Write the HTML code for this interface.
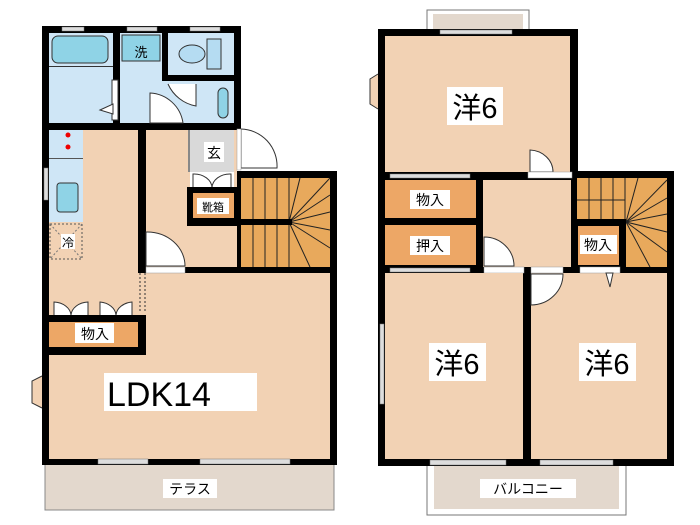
<!DOCTYPE html>
<html><head><meta charset="utf-8"><style>
html,body{margin:0;padding:0;background:#fff;}
svg{display:block}
text{font-family:"Liberation Sans","Noto Sans CJK JP",sans-serif;fill:#000}
</style></head><body>
<svg width="700" height="525" viewBox="0 0 700 525" xmlns="http://www.w3.org/2000/svg">
<rect x="45" y="463" width="289" height="47" fill="#e3d8cd" stroke="#888" stroke-width="1"/>
<rect x="42" y="26" width="199" height="104" fill="#000"/>
<rect x="42" y="125" width="104" height="340" fill="#000"/>
<rect x="138" y="267" width="199" height="198" fill="#000"/>
<rect x="237" y="171" width="100" height="102" fill="#000"/>
<rect x="49" y="33" width="64" height="90" fill="#cfe6f6"/>
<rect x="52" y="36" width="56" height="27" rx="6" fill="#8fd3e6" stroke="#333"/>
<rect x="49" y="66" width="64" height="1" fill="#333"/>
<rect x="120" y="33" width="114" height="90" fill="#cfe6f6"/>
<rect x="122" y="35" width="38" height="26" fill="#8fd3e6" stroke="#333"/>
<text x="141" y="57" font-size="13" text-anchor="middle">洗</text>
<rect x="162" y="33" width="6" height="45" fill="#000"/>
<rect x="168" y="33" width="66" height="45" fill="#cfe6f6"/>
<ellipse cx="192" cy="54" rx="13" ry="9" fill="#b5dcf2" stroke="#333"/>
<rect x="207" y="39" width="14" height="30" fill="#b5dcf2" stroke="#333"/>
<rect x="162" y="75" width="72" height="6" fill="#000"/>
<rect x="214" y="81" width="20" height="42" fill="#cfe6f6"/>
<rect x="218" y="88" width="10" height="30" rx="5" fill="#8fd3e6" stroke="#333"/>
<path d="M168 84 A38 38 0 0 0 196 106 L196 84" fill="#fff" stroke="#333"/>
<path d="M150 123 L150 93 A35 35 0 0 1 183 123 Z" fill="#fff" stroke="#333"/>
<rect x="112" y="80" width="6" height="40" fill="#fff" stroke="#333"/>
<path d="M100 110 L113 104 L113 114 Z" fill="#fff" stroke="#333"/>
<rect x="62" y="27" width="22" height="4" fill="#ddd" stroke="#777" stroke-width=".5"/>
<rect x="127" y="27" width="30" height="4" fill="#ddd" stroke="#777" stroke-width=".5"/>
<rect x="190" y="27" width="30" height="4" fill="#ddd" stroke="#777" stroke-width=".5"/>
<rect x="49" y="130" width="89" height="185" fill="#f2d2b4"/>
<rect x="146" y="130" width="91" height="137" fill="#f2d2b4"/>
<rect x="49" y="273" width="281" height="186" fill="#f2d2b4"/>
<rect x="138" y="273" width="8" height="42" fill="#f2d2b4"/>
<line x1="140" y1="273" x2="140" y2="313" stroke="#333" stroke-dasharray="2 2"/>
<line x1="145" y1="273" x2="145" y2="313" stroke="#333" stroke-dasharray="2 2"/>
<rect x="49" y="130" width="34" height="92" fill="#cfe6f6"/>
<rect x="49" y="158" width="34" height="1" fill="#555"/>
<circle cx="68" cy="135" r="2.5" fill="#e00"/><circle cx="68" cy="147" r="2.5" fill="#e00"/>
<rect x="57" y="183" width="21" height="29" rx="3" fill="#8fd3e6" stroke="#333"/>
<rect x="44" y="168" width="4" height="32" fill="#ddd" stroke="#777" stroke-width=".5"/>
<rect x="50" y="224" width="32" height="35" fill="none" stroke="#555" stroke-dasharray="2 2"/>
<line x1="50" y1="224" x2="82" y2="259" stroke="#777" stroke-dasharray="2 2"/>
<line x1="82" y1="224" x2="50" y2="259" stroke="#777" stroke-dasharray="2 2"/>
<rect x="61" y="234" width="14" height="15" fill="#fff"/>
<text x="68" y="247" font-size="12" text-anchor="middle">冷</text>
<rect x="42" y="315" width="104" height="40" fill="#000"/>
<rect x="49" y="322" width="89" height="25" fill="#eda766"/>
<rect x="75" y="323" width="39" height="20" fill="#fff"/>
<text x="95" y="339" font-size="14" text-anchor="middle">物入</text>
<path d="M54 315 L54 302 A18 14 0 0 1 71 315 M88 315 L88 302 A18 14 0 0 0 71 315" fill="#fff" stroke="#333"/>
<path d="M100 315 L100 302 A18 14 0 0 1 116 315 M132 315 L132 302 A18 14 0 0 0 116 315" fill="#fff" stroke="#333"/>
<rect x="138" y="125" width="8" height="142" fill="#000"/>
<rect x="190" y="130" width="44" height="42" fill="#d9d9d9"/>
<rect x="188" y="130" width="2" height="42" fill="#888"/>
<rect x="204" y="142" width="20" height="20" fill="#fff"/>
<text x="214" y="158" font-size="14" text-anchor="middle">玄</text>
<rect x="190" y="172" width="44" height="16" fill="#fff"/>
<path d="M193 188 L193 174 A18 14 0 0 1 212 188 M231 188 L231 174 A18 14 0 0 0 212 188" fill="none" stroke="#333"/>
<rect x="187" y="187" width="54" height="39" fill="#000"/>
<rect x="193" y="193" width="41" height="25" fill="#eda766"/>
<rect x="197" y="198" width="32" height="16" fill="#fff"/>
<text x="213" y="211" font-size="11" text-anchor="middle">靴箱</text>
<path d="M241 129 L241 168 L277 168 A37 37 0 0 0 241 129 Z" fill="#fff" stroke="#333"/>
<rect x="237" y="129" width="4" height="41" fill="#fff" stroke="#999" stroke-width=".5"/>
<rect x="241" y="178" width="89" height="89" fill="#e8a95c"/>
<g stroke="#222" stroke-width="1">
<line x1="253" y1="178" x2="253" y2="267"/><line x1="265" y1="178" x2="265" y2="267"/>
<line x1="277" y1="178" x2="277" y2="267"/><line x1="289" y1="178" x2="289" y2="267"/>
<line x1="241" y1="222" x2="289" y2="222"/>
<line x1="289" y1="222" x2="330" y2="178"/><line x1="289" y1="222" x2="330" y2="195"/>
<line x1="289" y1="222" x2="330" y2="212"/><line x1="289" y1="222" x2="330" y2="230"/>
<line x1="289" y1="222" x2="330" y2="248"/><line x1="289" y1="222" x2="310" y2="267"/>
<line x1="289" y1="222" x2="300" y2="178"/>
</g>
<rect x="236" y="219" width="56" height="6" fill="#000"/>
<path d="M146 266 L146 232 A38 34 0 0 1 185 266 Z" fill="#fff" stroke="#333"/>
<rect x="146" y="267" width="39" height="6" fill="#fff" stroke="#999" stroke-width=".5"/>
<rect x="104" y="373" width="153" height="38" fill="#fff"/>
<text x="107" y="406" font-size="34">LDK14</text>
<path d="M42 376 L32 381 L32 403 L42 408" fill="#f2d2b4" stroke="#333"/>
<rect x="98" y="459" width="50" height="5" fill="#ddd" stroke="#777" stroke-width=".5"/>
<rect x="200" y="459" width="90" height="5" fill="#ddd" stroke="#777" stroke-width=".5"/>
<rect x="163" y="479" width="54" height="19" fill="#fff"/>
<text x="190" y="494" font-size="14" text-anchor="middle">テラス</text>

<rect x="427" y="10" width="102" height="20" fill="#fff" stroke="#777"/>
<rect x="433" y="14" width="90" height="16" fill="#e3d8cd"/>
<rect x="427" y="463" width="199" height="52" fill="#fff" stroke="#777"/>
<rect x="434" y="466" width="185" height="43" fill="#e3d8cd"/>
<rect x="378" y="29" width="200" height="150" fill="#000"/>
<rect x="378" y="171" width="296" height="295" fill="#000"/>
<rect x="385" y="36" width="185" height="136" fill="#f2d2b4"/>
<rect x="440" y="30" width="72" height="4" fill="#ddd" stroke="#777" stroke-width=".5"/>
<path d="M378 74 L370 79 L370 104 L378 109" fill="#f2d2b4" stroke="#333"/>
<rect x="447" y="87" width="56" height="38" fill="#fff"/>
<text x="475" y="118" font-size="29" text-anchor="middle">洋6</text>
<path d="M530 172 L530 150 A24 22 0 0 1 553 172 Z" fill="#fff" stroke="#333"/>
<rect x="528" y="172" width="44" height="6" fill="#fff" stroke="#999" stroke-width=".5"/>
<rect x="385" y="180" width="91" height="38" fill="#eda766"/>
<rect x="390" y="174" width="80" height="4" fill="#ddd" stroke="#777" stroke-width=".5"/>
<rect x="410" y="190" width="40" height="19" fill="#fff"/>
<text x="430" y="205" font-size="14" text-anchor="middle">物入</text>
<rect x="385" y="225" width="91" height="40" fill="#eda766"/>
<rect x="410" y="236" width="40" height="19" fill="#fff"/>
<text x="430" y="251" font-size="14" text-anchor="middle">押入</text>
<rect x="390" y="268" width="80" height="4" fill="#ddd" stroke="#777" stroke-width=".5"/>
<rect x="483" y="180" width="88" height="87" fill="#f2d2b4"/>
<path d="M484 266 L484 237 A30 29 0 0 1 514 266 Z" fill="#fff" stroke="#333"/>
<rect x="484" y="267" width="40" height="6" fill="#fff" stroke="#999" stroke-width=".5"/>
<rect x="577" y="178" width="90" height="89" fill="#e8a95c"/>
<g stroke="#222" stroke-width="1">
<line x1="589" y1="178" x2="589" y2="220"/><line x1="601" y1="178" x2="601" y2="220"/>
<line x1="613" y1="178" x2="613" y2="220"/><line x1="625" y1="178" x2="625" y2="220"/>
<line x1="577" y1="200" x2="625" y2="200"/>
<line x1="626" y1="222" x2="667" y2="180"/><line x1="626" y1="222" x2="667" y2="198"/>
<line x1="626" y1="222" x2="667" y2="214"/><line x1="626" y1="222" x2="667" y2="232"/>
<line x1="626" y1="222" x2="667" y2="252"/><line x1="626" y1="222" x2="650" y2="267"/>
<line x1="626" y1="222" x2="638" y2="178"/>
</g>
<rect x="571" y="219" width="55" height="54" fill="#000"/>
<rect x="578" y="226" width="41" height="39" fill="#eda766"/>
<rect x="580" y="235" width="37" height="19" fill="#fff"/>
<text x="598" y="250" font-size="14" text-anchor="middle">物入</text>
<rect x="385" y="273" width="138" height="186" fill="#f2d2b4"/>
<rect x="531" y="273" width="136" height="186" fill="#f2d2b4"/>
<path d="M531 274 L531 305 A32 31 0 0 0 563 274 Z" fill="#fff" stroke="#333"/>
<rect x="531" y="267" width="32" height="6" fill="#fff" stroke="#999" stroke-width=".5"/>
<rect x="580" y="267" width="40" height="6" fill="#fff" stroke="#999" stroke-width=".5"/>
<path d="M606 273 L613 273 L610 287 Z" fill="#fff" stroke="#333"/>
<rect x="380" y="324" width="4" height="80" fill="#ddd" stroke="#777" stroke-width=".5"/>
<rect x="430" y="460" width="76" height="5" fill="#ddd" stroke="#777" stroke-width=".5"/>
<rect x="540" y="460" width="73" height="5" fill="#ddd" stroke="#777" stroke-width=".5"/>
<rect x="429" y="343" width="57" height="38" fill="#fff"/>
<text x="457" y="374" font-size="29" text-anchor="middle">洋6</text>
<rect x="579" y="343" width="57" height="38" fill="#fff"/>
<text x="607" y="374" font-size="29" text-anchor="middle">洋6</text>
<rect x="480" y="479" width="96" height="19" fill="#fff"/>
<text x="528" y="494" font-size="14" text-anchor="middle">バルコニー</text>
</svg>
</body></html>
